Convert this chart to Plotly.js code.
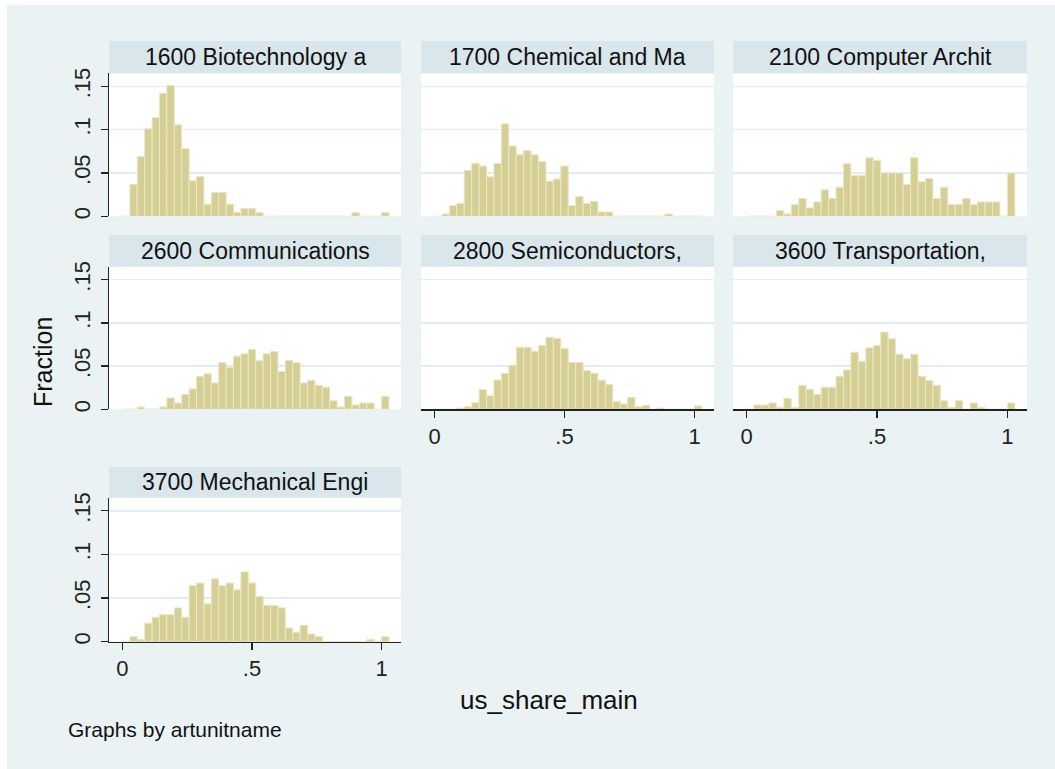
<!DOCTYPE html>
<html>
<head>
<meta charset="utf-8">
<script src="https://cdn.plot.ly/plotly-3.0.1.min.js"></script>
<style>
  body { margin: 0; background: #ffffff; }
  #myPlot { width: 1055px; height: 769px; }
</style>
</head>
<body>
<div id="myPlot"></div>
<script>
// histogram bins: 36 bins of width 1/35, first bin starts at 0
const binStart = 0;
const binWidth = 1 / 35;

const panelNames = [
    "1600 Biotechnology a", "1700 Chemical and Ma", "2100 Computer Archit",
    "2600 Communications", "2800 Semiconductors,", "3600 Transportation,",
    "3700 Mechanical Engi"
];

// fraction per bin
const frac1600 = [0, 0.037, 0.069, 0.101, 0.114, 0.142, 0.151, 0.1055, 0.078, 0.041,
    0.046, 0.014, 0.0275, 0.0275, 0.014, 0.0045, 0.009, 0.009, 0.0045, 0,
    0, 0, 0, 0, 0, 0, 0, 0, 0, 0, 0, 0.0045, 0, 0, 0, 0.0045];
const frac1700 = [0, 0.0027, 0.0124, 0.015, 0.053, 0.061, 0.058, 0.0456, 0.061, 0.1067,
    0.081, 0.071, 0.076, 0.071, 0.063, 0.0406, 0.043, 0.058, 0.0124, 0.0228,
    0.015, 0.0174, 0.005, 0.005, 0, 0, 0, 0, 0, 0, 0, 0.0027, 0, 0, 0, 0];
const frac2100 = [0, 0, 0, 0, 0.0066, 0.0027, 0.0135, 0.0205, 0.0097, 0.0166,
    0.0305, 0.0205, 0.0336, 0.0607, 0.0468, 0.0468, 0.0676, 0.0645, 0.050, 0.050,
    0.050, 0.0367, 0.0676, 0.0398, 0.0437, 0.0205, 0.0336, 0.0135, 0.0135, 0.0205,
    0.0135, 0.0166, 0.0166, 0.0166, 0, 0.050];
const frac2600 = [0, 0, 0.0027, 0, 0, 0.0027, 0.0131, 0.0073, 0.0174, 0.0236,
    0.0379, 0.041, 0.0305, 0.054, 0.0487, 0.0615, 0.0642, 0.0692, 0.0564, 0.0642,
    0.0669, 0.0437, 0.0564, 0.054, 0.0305, 0.0336, 0.0278, 0.0255, 0.010, 0.0027,
    0.0151, 0.005, 0.0073, 0.0073, 0, 0.0151];
const frac2800 = [0, 0, 0, 0.0015, 0.003, 0.0077, 0.0228, 0.0158, 0.034, 0.0417,
    0.051, 0.0719, 0.0719, 0.0673, 0.0738, 0.0835, 0.082, 0.0703, 0.0541, 0.0541,
    0.0448, 0.0417, 0.0336, 0.0286, 0.0093, 0.0062, 0.0139, 0.003, 0.0046, 0,
    0.0015, 0, 0, 0, 0, 0.0039];
const frac3600 = [0, 0.005, 0.005, 0.0073, 0.0023, 0.0128, 0.0023, 0.0278, 0.0232, 0.0174,
    0.0255, 0.0255, 0.0383, 0.0456, 0.0661, 0.0557, 0.0711, 0.0738, 0.0893, 0.0816,
    0.0638, 0.0584, 0.0638, 0.0383, 0.0332, 0.0278, 0.010, 0.0023, 0.010, 0,
    0.0073, 0.0023, 0, 0, 0, 0.0073];
const frac3700 = [0, 0.0058, 0.0027, 0.0212, 0.028, 0.031, 0.031, 0.0388, 0.028, 0.0642,
    0.0673, 0.0435, 0.072, 0.0642, 0.0673, 0.0596, 0.08, 0.0673, 0.0519, 0.0415,
    0.0415, 0.0388, 0.0158, 0.0108, 0.0188, 0.0088, 0.0058, 0, 0, 0,
    0, 0, 0, 0.0027, 0, 0.0058];

const panelValues = [frac1600, frac1700, frac2100, frac2600, frac2800, frac3600, frac3700];

const xTickVals = [0, 0.5, 1];
const xTickText = ["0", ".5", "1"];
const yTickVals = [0, 0.05, 0.1, 0.15];
const yTickText = ["0", ".05", ".1", ".15"];

// page geometry in pixels
const W = 1055, H = 769;
function px(x) { return x / W; }
function py(y) { return 1 - y / H; }

const cols = [[109, 401], [421, 714], [733, 1027]];
const rows = [[73.3, 216.3], [266.7, 409.3], [497.7, 641.7]];
const strips = [[41, 73.3], [235, 266.7], [467, 497.7]];

const font = "Liberation Sans, Arial, Helvetica, sans-serif";
const ink = "#222222";
const bgColor = "#eaf2f3";
const stripColor = "#d9e6eb";
const gridColor = "#e3ecee";

const data = [];
const shapes = [];
const annotations = [];
const layout = {
    width: W,
    height: H,
    margin: { l: 0, r: 0, t: 0, b: 0 },
    paper_bgcolor: bgColor,
    plot_bgcolor: "#ffffff",
    showlegend: false,
    bargap: 0,
    font: { family: font, color: ink, size: 22 }
};

panelValues.forEach(function (vals, i) {
    const r = Math.floor(i / 3);
    const c = i % 3;
    const n = i + 1;
    const xa = "x" + (n === 1 ? "" : n);
    const ya = "y" + (n === 1 ? "" : n);

    data.push({
        type: "bar",
        x0: binStart + binWidth / 2,
        dx: binWidth,
        y: vals,
        width: binWidth,
        xaxis: xa,
        yaxis: ya,
        marker: { color: "#d5cf96", line: { color: "#ebe7c6", width: 1 } },
        hoverinfo: "y"
    });

    const hasX = (i >= 4);
    const hasY = (c === 0);

    layout["xaxis" + (n === 1 ? "" : n)] = {
        domain: [px(cols[c][0]), px(cols[c][1])],
        anchor: ya,
        range: [-0.052, 1.075],
        tickvals: xTickVals,
        ticktext: xTickText,
        showgrid: false,
        zeroline: false,
        showline: hasX,
        linecolor: ink,
        linewidth: 1.3,
        ticks: hasX ? "outside" : "",
        ticklen: 7,
        tickcolor: ink,
        tickwidth: 1.3,
        showticklabels: hasX,
        tickfont: { size: 22, color: ink }
    };
    layout["yaxis" + (n === 1 ? "" : n)] = {
        domain: [py(rows[r][1]), py(rows[r][0])],
        anchor: xa,
        range: [0, 0.165],
        tickvals: yTickVals,
        ticktext: yTickText,
        showgrid: true,
        gridcolor: gridColor,
        gridwidth: 1.5,
        zeroline: false,
        showline: hasY,
        linecolor: ink,
        linewidth: 1.3,
        ticks: hasY ? "outside" : "",
        ticklen: 7,
        tickcolor: ink,
        tickwidth: 1.3,
        tickangle: -90,
        ticklabelstandoff: 2,
        showticklabels: hasY,
        tickfont: { size: 22, color: ink }
    };

    // strip above each panel
    shapes.push({
        type: "rect", xref: "paper", yref: "paper", layer: "below",
        x0: px(cols[c][0]), x1: px(cols[c][1]),
        y0: py(strips[r][1]), y1: py(strips[r][0]),
        fillcolor: stripColor, line: { width: 0 }
    });
    annotations.push({
        xref: "paper", yref: "paper",
        x: px((cols[c][0] + cols[c][1]) / 2),
        y: py((strips[r][0] + strips[r][1]) / 2),
        text: panelNames[i], showarrow: false,
        xanchor: "center", yanchor: "middle",
        font: { size: 23, color: "#111111" }
    });
});

// white page edge around the graph region
shapes.push({
    type: "rect", xref: "paper", yref: "paper", layer: "below",
    x0: 0, x1: 1, y0: py(5), y1: 1, fillcolor: "#ffffff", line: { width: 0 }
});
shapes.push({
    type: "rect", xref: "paper", yref: "paper", layer: "below",
    x0: 0, x1: px(7), y0: 0, y1: 1, fillcolor: "#ffffff", line: { width: 0 }
});

annotations.push({
    xref: "paper", yref: "paper", x: px(43), y: py(362),
    text: "Fraction", showarrow: false, textangle: -90,
    xanchor: "center", yanchor: "middle",
    font: { size: 25, color: "#111111" }
});
annotations.push({
    xref: "paper", yref: "paper", x: px(549), y: py(700),
    text: "us_share_main", showarrow: false,
    xanchor: "center", yanchor: "middle",
    font: { size: 26, color: "#111111" }
});
annotations.push({
    xref: "paper", yref: "paper", x: px(66), y: py(729),
    text: "Graphs by artunitname", showarrow: false,
    xanchor: "left", yanchor: "middle",
    font: { size: 21, color: "#111111" }
});

layout.shapes = shapes;
layout.annotations = annotations;

Plotly.newPlot("myPlot", data, layout, { displayModeBar: false, staticPlot: true });
</script>
</body>
</html>
